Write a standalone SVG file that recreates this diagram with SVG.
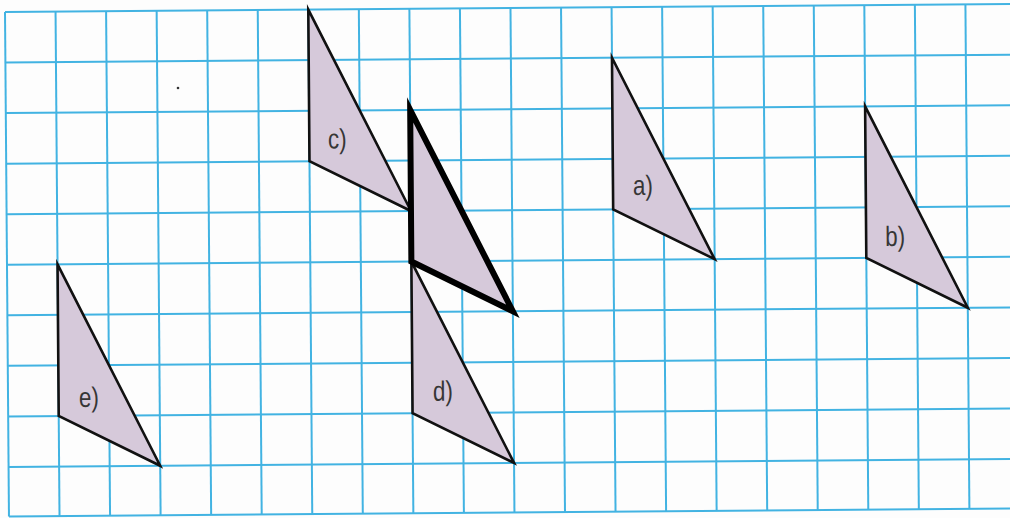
<svg xmlns="http://www.w3.org/2000/svg" width="1010" height="518" viewBox="0 0 1010 518">
<defs>
<style>
.grid line{stroke:#42b3e2;stroke-width:2}
.tri{fill:#d6c9da;stroke:#111;stroke-width:2.6;stroke-linejoin:miter;stroke-miterlimit:10}
.bold{fill:#d6c9da;stroke:#000;stroke-width:6;stroke-linejoin:miter;stroke-miterlimit:10}
.lbl{font-family:"Liberation Sans",Arial,sans-serif;font-size:28px;fill:#363636}
</style>
</defs>
<rect width="1010" height="518" fill="#fdfdfd"/>
<g transform="rotate(-0.45 5 12)">
<g class="grid" id="grid">
<line x1="5" y1="12" x2="5" y2="516.5"/>
<line x1="55.55" y1="12" x2="55.55" y2="516.5"/>
<line x1="106.1" y1="12" x2="106.1" y2="516.5"/>
<line x1="156.65" y1="12" x2="156.65" y2="516.5"/>
<line x1="207.2" y1="12" x2="207.2" y2="516.5"/>
<line x1="257.75" y1="12" x2="257.75" y2="516.5"/>
<line x1="308.3" y1="12" x2="308.3" y2="516.5"/>
<line x1="358.85" y1="12" x2="358.85" y2="516.5"/>
<line x1="409.4" y1="12" x2="409.4" y2="516.5"/>
<line x1="459.95" y1="12" x2="459.95" y2="516.5"/>
<line x1="510.5" y1="12" x2="510.5" y2="516.5"/>
<line x1="561.05" y1="12" x2="561.05" y2="516.5"/>
<line x1="611.6" y1="12" x2="611.6" y2="516.5"/>
<line x1="662.15" y1="12" x2="662.15" y2="516.5"/>
<line x1="712.7" y1="12" x2="712.7" y2="516.5"/>
<line x1="763.25" y1="12" x2="763.25" y2="516.5"/>
<line x1="813.8" y1="12" x2="813.8" y2="516.5"/>
<line x1="864.35" y1="12" x2="864.35" y2="516.5"/>
<line x1="914.9" y1="12" x2="914.9" y2="516.5"/>
<line x1="965.45" y1="12" x2="965.45" y2="516.5"/>
<line x1="1016" y1="12" x2="1016" y2="516.5"/>
<line x1="5" y1="12" x2="1030" y2="12"/>
<line x1="5" y1="62.55" x2="1030" y2="62.55"/>
<line x1="5" y1="113.1" x2="1030" y2="113.1"/>
<line x1="5" y1="163.65" x2="1030" y2="163.65"/>
<line x1="5" y1="214.2" x2="1030" y2="214.2"/>
<line x1="5" y1="264.75" x2="1030" y2="264.75"/>
<line x1="5" y1="315.3" x2="1030" y2="315.3"/>
<line x1="5" y1="365.85" x2="1030" y2="365.85"/>
<line x1="5" y1="416.4" x2="1030" y2="416.4"/>
<line x1="5" y1="466.95" x2="1030" y2="466.95"/>
<line x1="5" y1="516.5" x2="1030" y2="516.5"/>
</g>
<g id="connectors"></g>
<g id="tri-c">
<polygon class="tri" points="308.3,12 308.3,163.65 409.4,214.2"/>
<text class="lbl" transform="translate(327,151) scale(0.8,1)">c)</text>
</g>
<g id="tri-d">
<polygon class="tri" points="409.4,264.75 409.4,416.4 510.5,466.95"/>
<text class="lbl" transform="translate(430,404) scale(0.8,1)">d)</text>
</g>
<g id="tri-bold">
<polygon class="bold" points="409.4,113.1 409.4,264.75 510.5,315.3"/>
</g>
<g id="tri-a">
<polygon class="tri" points="611.6,62.55 611.6,214.2 712.7,264.75"/>
<text class="lbl" transform="translate(631.5,200) scale(0.8,1)">a)</text>
</g>
<g id="tri-b">
<polygon class="tri" points="864.35,113.1 864.35,264.75 965.45,315.3"/>
<text class="lbl" transform="translate(883.5,253) scale(0.8,1)">b)</text>
</g>
<g id="tri-e">
<polygon class="tri" points="55.55,264.75 55.55,416.4 156.65,466.95"/>
<text class="lbl" transform="translate(76,407.5) scale(0.8,1)">e)</text>
</g>
</g>
<circle cx="178" cy="88" r="1.3" fill="#333"/>
</svg>
